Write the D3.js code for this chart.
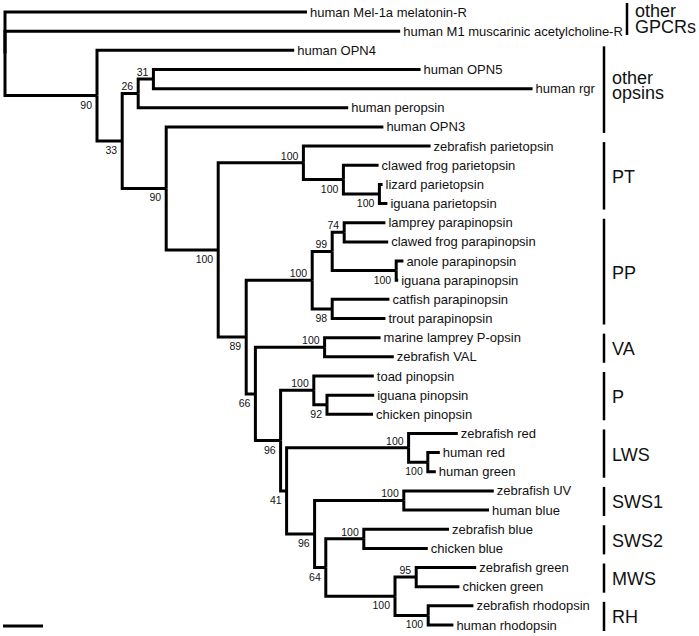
<!DOCTYPE html>
<html>
<head>
<meta charset="utf-8">
<script src="https://cdn.jsdelivr.net/npm/d3@7"></script>
<style>
  html, body { margin: 0; padding: 0; background: #fff; }
  svg { display: block; }
  text { font-family: Arial, "Liberation Sans", Helvetica, sans-serif; fill: #111; }
</style>
</head>
<body>
<svg id="chart" width="699" height="636"></svg>
<script>
// ---- DATA ----
// Tree edges: node id, parent id, branch length (substitutions/site), bootstrap support
const nodeIds = [
  "root","Mel","M1","A","OPN4","B","C","D","OPN5","rgr","peropsin","E","OPN3","F",
  "PT","zfPT","G","cfPT","H","lizPT","iguPT",
  "I","PP","J","K","lamPP","cfPP","L","anoPP","iguPP","M","catPP","troPP",
  "N","VA","mlP","zfVAL","O","P","toad","Q","iguPin","chPin",
  "R","LWS","zfRed","S","hRed","hGreen","T","SWS1","zfUV","hBlue",
  "U","SWS2","zfBlue","chBlue","V","MWS","zfGreen","chGreen","RH","zfRho","hRho"
];
const parentIds = [
  "","root","root","root","A","A","B","C","D","D","C","B","E","E",
  "F","PT","PT","G","G","H","H",
  "F","I","PP","J","K","K","J","L","L","PP","M","M",
  "I","N","VA","VA","N","O","P","P","Q","Q",
  "O","R","LWS","LWS","S","S","R","T","SWS1","SWS1",
  "T","U","SWS2","SWS2","U","V","MWS","MWS","V","RH","RH"
];
const branchLengths = [
  0,0.755,0.988,0.230,0.493,0.063,0.040,0.038,0.668,0.948,0.525,0.110,0.543,0.130,
  0.213,0.318,0.100,0.088,0.090,0.008,0.020,
  0.070,0.165,0.050,0.030,0.103,0.110,0.160,0.018,0.005,0.050,0.143,0.133,
  0.023,0.173,0.140,0.173,0.063,0.083,0.150,0.033,0.118,0.115,
  0.015,0.305,0.123,0.048,0.030,0.020,0.070,0.223,0.225,0.213,
  0.028,0.095,0.213,0.160,0.173,0.053,0.150,0.108,0.083,0.113,0.063
];
const supports = [
  null,null,null,90,null,33,26,31,null,null,null,90,null,100,
  100,null,100,null,100,null,null,
  89,100,99,74,null,null,100,null,null,98,null,null,
  66,100,null,null,96,100,null,92,null,null,
  41,100,null,100,null,null,96,100,null,null,
  64,100,null,null,100,95,null,null,100,null,null
];
const leafLabels = {
  Mel:"human Mel-1a melatonin-R", M1:"human M1 muscarinic acetylcholine-R",
  OPN4:"human OPN4", OPN5:"human OPN5", rgr:"human rgr", peropsin:"human peropsin", OPN3:"human OPN3",
  zfPT:"zebrafish parietopsin", cfPT:"clawed frog parietopsin", lizPT:"lizard parietopsin", iguPT:"iguana parietopsin",
  lamPP:"lamprey parapinopsin", cfPP:"clawed frog parapinopsin", anoPP:"anole parapinopsin", iguPP:"iguana parapinopsin",
  catPP:"catfish parapinopsin", troPP:"trout parapinopsin",
  mlP:"marine lamprey P-opsin", zfVAL:"zebrafish VAL",
  toad:"toad pinopsin", iguPin:"iguana pinopsin", chPin:"chicken pinopsin",
  zfRed:"zebrafish red", hRed:"human red", hGreen:"human green",
  zfUV:"zebrafish UV", hBlue:"human blue", zfBlue:"zebrafish blue", chBlue:"chicken blue",
  zfGreen:"zebrafish green", chGreen:"chicken green", zfRho:"zebrafish rhodopsin", hRho:"human rhodopsin"
};
// Clade groups: label lines, first and last leaf
const groupNames = [["other","GPCRs"],["other","opsins"],["PT"],["PP"],["VA"],["P"],["LWS"],["SWS1"],["SWS2"],["MWS"],["RH"]];
const groupFirst = ["Mel","OPN4","zfPT","lamPP","mlP","toad","zfRed","zfUV","zfBlue","zfGreen","zfRho"];
const groupLast  = ["M1","OPN3","iguPT","troPP","zfVAL","chPin","hGreen","hBlue","chBlue","chGreen","hRho"];
const scaleBarLength = 0.1;

// ---- LAYOUT ----
const svg = d3.select("#chart");
const rows = nodeIds.map((id, i) => ({id, parent: parentIds[i] || null, len: branchLengths[i], support: supports[i]}));
const root = d3.stratify().id(d => d.id).parentId(d => d.parent)(rows);

root.eachBefore(n => { n.dist = n.parent ? n.parent.dist + n.data.len : 0; });
const leaves = root.leaves();
const x = d3.scaleLinear().domain([0, 1]).range([5, 405]);
const y = d3.scaleLinear().domain([0, leaves.length - 1]).range([12, 625]);
leaves.forEach((l, i) => { l.yy = y(i); });
root.eachAfter(n => {
  if (n.children) n.yy = (n.children[0].yy + n.children[n.children.length - 1].yy) / 2;
});
const leafY = {};
leaves.forEach(l => leafY[l.id] = l.yy);

// ---- BRANCHES ----
const g = svg.append("g");
g.selectAll("path.link")
  .data(root.links())
  .join("path")
  .attr("class", "link")
  .attr("fill", "none")
  .attr("stroke", "#000")
  .attr("stroke-width", 3)
  .attr("stroke-linejoin", "miter")
  .attr("d", d => `M${x(d.source.dist)},${d.source.yy}V${d.target.yy}H${x(d.target.dist)}`);

// ---- LEAF LABELS ----
g.selectAll("text.leaf")
  .data(leaves)
  .join("text")
  .attr("class", "leaf")
  .attr("x", d => x(d.dist) + 3)
  .attr("y", d => d.yy)
  .attr("dy", "0.35em")
  .attr("font-size", 13)
  .text(d => leafLabels[d.id]);

// ---- SUPPORT VALUES ----
const aboveNodes = new Set(["C","D","PT","PP","J","K","VA","P","LWS","SWS1","SWS2","MWS"]);
g.selectAll("text.sup")
  .data(root.descendants().filter(n => n.data.support != null))
  .join("text")
  .attr("class", "sup")
  .attr("text-anchor", "end")
  .attr("font-size", 10.5)
  .attr("x", d => x(d.dist) - 5)
  .attr("y", d => aboveNodes.has(d.id) ? d.yy - 3 : d.yy + 13)
  .text(d => d.data.support);

// ---- CLADE BRACKETS ----
groupNames.forEach((lines, i) => {
  const isTop = i === 0;
  const bx = isTop ? 627 : 604;
  const y0 = isTop ? 3 : leafY[groupFirst[i]] - 4;
  const y1 = isTop ? 35 : leafY[groupLast[i]] + 6;
  svg.append("line")
    .attr("x1", bx).attr("x2", bx).attr("y1", y0).attr("y2", y1)
    .attr("stroke", "#000").attr("stroke-width", 2.5);
  const mid = (y0 + y1) / 2;
  const t = svg.append("text").attr("font-size", 18).attr("x", bx + 8);
  if (lines.length === 1) {
    t.attr("y", mid + 7).text(lines[0]);
  } else {
    const b1 = isTop ? y1 - 18 : mid - 6;
    lines.forEach((s, k) => {
      t.append("tspan").attr("x", bx + 8).attr("y", b1 + k * 15.5).text(s);
    });
  }
});

// ---- SCALE BAR ----
svg.append("line")
  .attr("x1", x(0) - 2).attr("x2", x(scaleBarLength) - 2)
  .attr("y1", 626).attr("y2", 626)
  .attr("stroke", "#000").attr("stroke-width", 3);
</script>
</body>
</html>
